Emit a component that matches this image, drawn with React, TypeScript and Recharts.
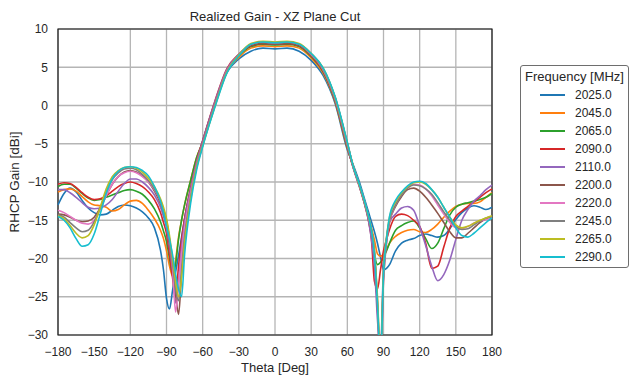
import { LineChart, Line, XAxis, YAxis, CartesianGrid, Legend, ReferenceArea } from 'recharts'

// theta samples (deg) — denser around the nulls near +/-85
const theta = [
  -180, -175, -170, -165, -160, -155, -150, -145, -140, -135, -130, -125, -120, -115, -110, -105, -100,
  -95, -92.5, -90, -87.5, -85, -82.5, -80, -77.5, -75,
  -70, -65,
  -60, -50, -40, -30, -20, -10, 0, 10, 20, 30, 40, 50, 60,
  65, 70, 75, 77.5, 80, 82.5, 85, 87.5, 90, 92.5, 95,
  100, 105, 110, 115, 120, 125, 130, 135, 140, 145, 150, 155, 160, 165, 170, 175, 180,
]

const gain2025 = [
  -13.0, -11.5, -10.8, -11.3, -12.4, -13.4, -14.0, -14.3, -14.2, -13.7, -13.2, -13.0, -13.1, -13.4, -13.9, -14.7, -16.0,
  -18.9, -21.5, -25.2, -26.6, -24.2, -21.8, -19.6, -17.2, -14.8,
  -10.8, -7.2,
  -4.6, 0.3, 4.3, 6.1, 7.1, 7.5, 7.4, 7.5, 7.1, 5.9, 3.9, 0.2, -5.8,
  -7.8, -10.0, -12.6, -13.9, -15.2, -16.5, -18.0, -19.8, -21.5, -21.3, -20.8,
  -19.0, -18.0, -17.6, -17.4, -17.0, -16.8, -17.0, -17.2, -17.0, -16.1, -14.9, -14.0, -13.4, -13.1, -13.3, -13.6, -13.3,
]
const gain2045 = [
  -11.3, -11.0, -10.9, -11.2, -11.9, -12.6, -13.0, -13.1, -13.3, -13.8, -13.6, -13.0, -12.5, -12.4, -12.8, -13.7, -14.8,
  -16.3, -17.4, -19.0, -21.0, -22.3, -20.3, -17.2, -15.0, -13.0,
  -9.8, -6.8,
  -4.8, 0.2, 4.4, 6.3, 7.5, 7.8, 7.7, 7.8, 7.5, 6.2, 4.2, 0.4, -5.6,
  -8.0, -10.4, -13.0, -14.5, -16.0, -17.6, -19.4, -19.7, -19.4, -18.8, -18.0,
  -17.1, -16.6, -16.3, -16.2, -16.5, -16.6, -16.2, -15.5, -14.6, -13.8, -13.2, -12.9, -12.8, -12.8, -12.6, -12.0, -11.4,
]
const gain2065 = [
  -10.6, -10.3, -10.3, -10.8, -11.5, -12.1, -12.4, -12.3, -12.0, -11.7, -11.4, -11.1, -11.0, -11.2, -11.6, -12.4, -13.5,
  -15.2, -16.4, -17.8, -20.0, -22.0, -20.8, -17.5, -15.0, -13.0,
  -9.8, -6.8,
  -4.9, 0.1, 4.5, 6.5, 7.7, 8.0, 7.9, 8.0, 7.7, 6.4, 4.4, 0.5, -5.5,
  -8.1, -10.5, -13.2, -14.8, -17.0, -19.5, -20.8, -20.5, -19.8, -19.0, -18.0,
  -16.3, -15.7, -15.3, -15.1, -16.0, -17.4, -18.7, -18.0, -16.1, -14.3, -13.3, -12.9, -12.7, -12.5, -12.3, -12.0, -11.5,
]
const gain2090 = [
  -10.3, -10.1, -10.2, -10.7, -11.4, -12.0, -12.3, -12.2, -11.8, -11.2, -10.6, -10.2, -10.0, -10.2, -10.6, -11.3, -12.3,
  -14.0, -15.3, -16.7, -19.5, -22.5, -25.0, -21.0, -17.5, -14.8,
  -10.8, -7.3,
  -4.6, 0.5, 4.8, 6.7, 7.8, 8.1, 8.0, 8.1, 7.8, 6.5, 4.5, 0.6, -5.4,
  -8.2, -10.6, -13.3, -15.0, -17.5, -23.0, -24.0, -21.5, -19.0, -17.5, -16.2,
  -14.5, -14.2, -14.4, -15.0, -15.8, -18.0, -21.3, -21.0, -18.5, -16.0, -14.5, -13.8, -13.2, -12.6, -12.0, -11.4, -10.9,
]
const gain2110 = [
  -11.0, -11.0, -11.4, -12.0, -12.7, -13.3, -13.5, -13.4, -13.0, -12.3, -11.2, -10.2, -9.6, -9.6, -10.0, -10.7, -11.7,
  -13.3, -14.5, -16.0, -18.5, -21.5, -25.8, -23.0, -18.5, -15.3,
  -11.0, -7.4,
  -4.7, 0.4, 4.7, 6.7, 7.9, 8.2, 8.1, 8.2, 7.9, 6.6, 4.6, 0.7, -5.3,
  -8.2, -10.6, -13.3, -15.0, -17.5, -21.0, -28.0, -32.0, -21.0, -17.3, -15.2,
  -14.2, -13.4, -13.2, -13.7, -15.8, -18.3, -21.0, -22.9, -22.1, -20.2, -17.5, -15.0, -13.6, -12.5, -11.8, -11.0, -10.4,
]
const gain2200 = [
  -14.2, -14.3, -14.6, -15.0, -15.2, -15.1, -14.6, -13.4, -11.8, -10.3, -9.3, -8.7, -8.5, -8.7, -9.2, -10.0, -11.2,
  -12.8, -14.0, -15.5, -18.0, -21.0, -24.5, -27.3, -22.0, -17.0,
  -11.8, -7.8,
  -5.0, 0.1, 4.5, 6.6, 7.8, 8.1, 8.0, 8.1, 7.8, 6.6, 4.7, 0.9, -5.0,
  -8.0, -10.4, -13.0, -14.5, -16.4, -19.5, -26.5, -34.0, -23.0, -18.0, -15.3,
  -13.2, -11.9, -11.0, -10.8, -11.2, -12.0, -13.0, -14.1, -15.3, -16.5, -17.3, -17.3, -16.7, -16.0, -15.3, -14.8, -14.5,
]
const gain2220 = [
  -13.7, -14.0, -14.5, -15.0, -15.4, -15.5, -15.0, -13.6, -11.8, -10.3, -9.3, -8.8, -8.6, -8.8, -9.3, -10.0, -11.0,
  -12.5, -13.7, -15.2, -17.5, -21.0, -27.0, -23.5, -19.5, -16.0,
  -11.5, -7.8,
  -5.1, 0.0, 4.5, 6.6, 8.0, 8.3, 8.2, 8.3, 8.0, 6.7, 4.7, 0.9, -5.0,
  -8.0, -10.4, -13.0, -14.5, -16.3, -19.2, -26.0, -34.0, -22.5, -17.8, -15.2,
  -13.0, -11.6, -10.7, -10.3, -10.4, -10.9, -11.8, -13.0, -14.2, -15.3, -16.0, -16.1, -15.8, -15.4, -15.1, -14.9, -14.7,
]
const gain2245 = [
  -14.3, -14.6, -15.3, -16.0, -16.5, -16.3, -15.2, -13.4, -11.3, -9.7, -8.8, -8.3, -8.2, -8.4, -9.0, -9.8, -10.9,
  -12.4, -13.6, -15.0, -17.5, -20.5, -24.0, -25.5, -21.5, -17.2,
  -12.0, -8.0,
  -5.2, -0.1, 4.4, 6.6, 8.0, 8.3, 8.2, 8.3, 8.0, 6.8, 4.8, 1.0, -4.9,
  -8.0, -10.4, -13.0, -14.5, -16.2, -19.0, -25.5, -33.0, -22.0, -17.5, -15.0,
  -13.0, -11.7, -10.8, -10.4, -10.5, -10.9, -11.6, -12.7, -13.9, -15.0, -15.8, -16.2, -16.1, -15.6, -15.1, -14.7, -14.5,
]
const gain2265 = [
  -14.4, -14.8, -15.7, -16.7, -17.3, -17.0, -15.6, -13.3, -10.9, -9.3, -8.5, -8.1, -8.0, -8.2, -8.7, -9.5, -10.6,
  -12.2, -13.3, -14.8, -17.0, -20.0, -23.0, -25.0, -22.5, -18.0,
  -12.3, -8.1,
  -5.3, -0.2, 4.3, 6.6, 8.1, 8.4, 8.3, 8.4, 8.1, 6.8, 4.9, 1.0, -4.9,
  -8.0, -10.4, -13.0, -14.5, -16.2, -19.0, -25.0, -33.0, -21.5, -17.2, -14.6,
  -12.6, -11.4, -10.6, -10.1, -10.0, -10.3, -11.0, -12.0, -13.3, -14.6, -15.6, -16.0, -15.8, -15.4, -15.0, -14.7, -14.4,
]
const gain2290 = [
  -14.5, -15.0, -16.0, -17.4, -18.4, -18.2, -16.8, -14.2, -11.5, -9.6, -8.6, -8.1, -8.0, -8.1, -8.5, -9.2, -10.6,
  -12.5, -14.0, -15.8, -17.5, -19.5, -22.0, -24.0, -25.0, -19.5,
  -12.8, -8.4,
  -5.4, -0.3, 4.2, 6.5, 8.0, 8.3, 8.2, 8.3, 8.0, 6.8, 4.9, 1.1, -4.8,
  -8.0, -10.3, -12.9, -14.4, -16.3, -19.5, -26.0, -34.0, -22.0, -17.5, -14.5,
  -12.4, -11.3, -10.5, -10.0, -9.9, -10.2, -11.0, -12.0, -13.3, -14.6, -16.0, -17.0, -17.2, -16.7, -16.0, -15.3, -14.7,
]

const series = [
  { name: '2025.0', values: gain2025, color: '#1f77b4' },
  { name: '2045.0', values: gain2045, color: '#ff7f0e' },
  { name: '2065.0', values: gain2065, color: '#2ca02c' },
  { name: '2090.0', values: gain2090, color: '#d62728' },
  { name: '2110.0', values: gain2110, color: '#9467bd' },
  { name: '2200.0', values: gain2200, color: '#8c564b' },
  { name: '2220.0', values: gain2220, color: '#e377c2' },
  { name: '2245.0', values: gain2245, color: '#7f7f7f' },
  { name: '2265.0', values: gain2265, color: '#bcbd22' },
  { name: '2290.0', values: gain2290, color: '#17becf' },
]

const xTicks = [-180, -150, -120, -90, -60, -30, 0, 30, 60, 90, 120, 150, 180]
const yTicks = [-30, -25, -20, -15, -10, -5, 0, 5, 10]

const data = theta.map((t, i) => {
  const row: Record<string, number> = { theta: t }
  series.forEach((s) => {
    row[s.name] = s.values[i]
  })
  return row
})

const textColor = '#262626'
const font = '"Liberation Sans", Arial, sans-serif'
const minus = (v: number) => String(v).replace('-', '\u2212')

function FreqLegend() {
  return (
    <div
      style={{
        width: 107,
        height: 201,
        border: '1px solid #6e6e6e',
        borderRadius: 3,
        background: '#fff',
        fontFamily: font,
        color: textColor,
      }}
    >
      <div style={{ fontSize: 13, lineHeight: '18px', marginTop: 2, paddingLeft: 4, whiteSpace: 'nowrap' }}>
        Frequency [MHz]
      </div>
      {series.map((s) => (
        <div key={s.name} style={{ height: 18.04, display: 'flex', alignItems: 'center' }}>
          <div style={{ width: 25, height: 2, background: s.color, marginLeft: 19 }} />
          <span style={{ fontSize: 12, marginLeft: 10 }}>{s.name}</span>
        </div>
      ))}
    </div>
  )
}

export default function App() {
  return (
    <div style={{ position: 'absolute', left: 0, top: 0, width: 630, height: 376, background: '#fff', fontFamily: font }}>
      <div
        style={{
          position: 'absolute', left: 58, width: 434, top: 9, lineHeight: '16px',
          textAlign: 'center', fontSize: 13, color: textColor,
        }}
      >
        Realized Gain - XZ Plane Cut
      </div>
      <div
        style={{
          position: 'absolute', left: 58, width: 434, top: 360, lineHeight: '16px',
          textAlign: 'center', fontSize: 13, color: textColor,
        }}
      >
        Theta [Deg]
      </div>
      <div
        style={{
          position: 'absolute', left: -85, top: 174, width: 200, lineHeight: '16px',
          textAlign: 'center', fontSize: 13.5, color: textColor, transform: 'rotate(-90deg)',
        }}
      >
        RHCP Gain [dBi]
      </div>
      <LineChart width={630} height={376} data={data} margin={{ top: 29, right: 138, bottom: 11, left: 0 }}>
        <CartesianGrid stroke="#b5b5b5" strokeWidth={1.3} horizontalValues={yTicks} verticalValues={xTicks} />
        <XAxis
          dataKey="theta"
          type="number"
          domain={[-180, 180]}
          ticks={xTicks}
          tickFormatter={minus}
          axisLine={false}
          tickLine={false}
          tickMargin={6}
          height={30}
          tick={{ fontSize: 12, fill: textColor, fontFamily: font }}
        />
        <YAxis
          type="number"
          domain={[-30, 10]}
          ticks={yTicks}
          allowDataOverflow
          tickFormatter={minus}
          axisLine={false}
          tickLine={false}
          tickMargin={4}
          width={58}
          tick={{ fontSize: 12, fill: textColor, fontFamily: font }}
        />
        {series.map((s) => (
          <Line
            key={s.name}
            dataKey={s.name}
            name={s.name}
            type="monotone"
            stroke={s.color}
            strokeWidth={1.6}
            dot={false}
            isAnimationActive={false}
          />
        ))}
        <ReferenceArea x1={-180} x2={180} y1={-30} y2={10} fill="none" stroke="#1a1a1a" strokeWidth={1.2} />
        <Legend
          layout="vertical"
          align="center"
          verticalAlign="middle"
          wrapperStyle={{ left: 520, top: 65, width: 109 }}
          content={() => <FreqLegend />}
        />
      </LineChart>
    </div>
  )
}
